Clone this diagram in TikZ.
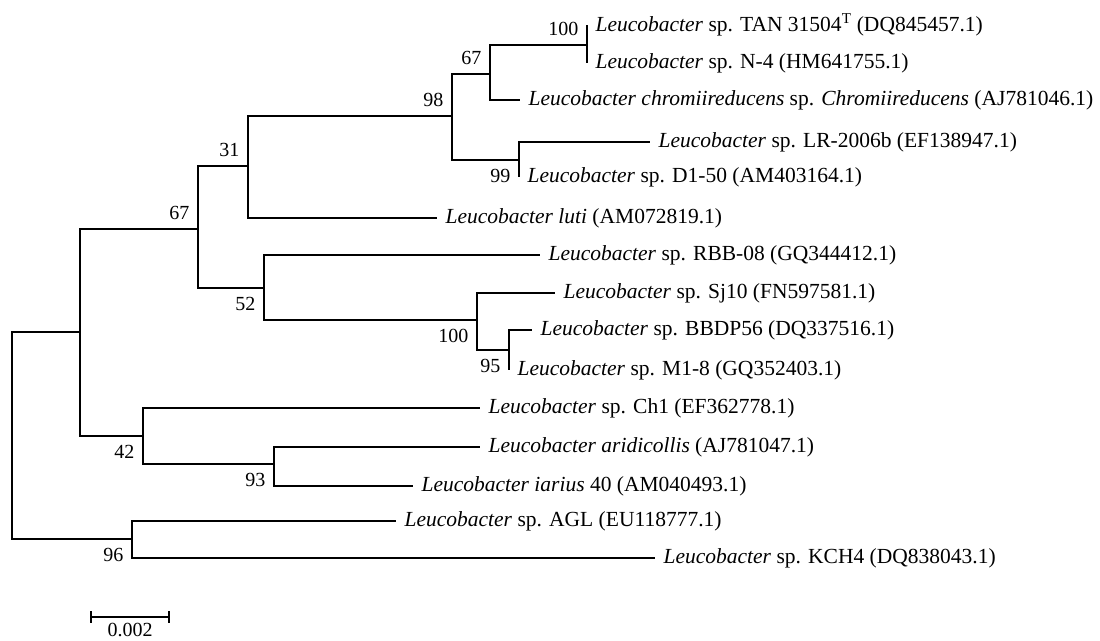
\documentclass[tikz,border=0pt]{standalone}
\usepackage{fontspec}
\setmainfont{Liberation Serif}
\begin{document}
\begin{tikzpicture}[x=1pt, y=-1pt, line width=1.2pt,
    taxon/.style={anchor=west, inner xsep=8pt, inner ysep=0pt, font=\fontsize{21.5}{25}\selectfont},
    boot/.style={font=\fontsize{20}{24}\selectfont, inner xsep=8pt, inner ysep=9pt}]
\useasboundingbox (0,0) rectangle (1100,640);

% internal nodes with bootstrap values
\coordinate (root) at (12,435);
\coordinate (ninner) at (80,332);
\coordinate[label={[boot]above left:67}] (n67b) at (198,229);
\coordinate[label={[boot]above left:31}] (n31) at (248,166);
\coordinate[label={[boot]above left:98}] (n98) at (452,116);
\coordinate[label={[boot]above left:67}] (n67a) at (490,74);
\coordinate[label={[boot]above left:100}] (n100a) at (587,45);
\coordinate[label={[boot]below left:99}] (n99) at (519,160);
\coordinate[label={[boot]below left:52}] (n52) at (264,288);
\coordinate[label={[boot]below left:100}] (n100b) at (477,320);
\coordinate[label={[boot]below left:95}] (n95) at (509,350);
\coordinate[label={[boot]below left:42}] (n42) at (143,436);
\coordinate[label={[boot]below left:93}] (n93) at (274,464);
\coordinate[label={[boot]below left:96}] (n96) at (132,539);

% branches between internal nodes
\foreach \a/\b in {root/ninner, root/n96, ninner/n67b, ninner/n42, n67b/n31, n67b/n52,
    n31/n98, n98/n67a, n98/n99, n67a/n100a, n52/n100b, n100b/n95, n42/n93}
    \draw (\a) |- (\b);

% leaves
\foreach \pa/\nm/\x/\y/\txt in {
    n100a/tan/587/25/{\textit{Leucobacter} sp. TAN 31504\textsuperscript{T} (DQ845457.1)},
    n100a/nfour/587/63/{\textit{Leucobacter} sp. N-4 (HM641755.1)},
    n67a/chromi/520/100/{\textit{Leucobacter chromiireducens} sp. \textit{Chromiireducens} (AJ781046.1)},
    n99/lrb/650/142/{\textit{Leucobacter} sp. LR-2006b (EF138947.1)},
    n99/dfifty/519/177/{\textit{Leucobacter} sp. D1-50 (AM403164.1)},
    n31/luti/437/218/{\textit{Leucobacter luti} (AM072819.1)},
    n52/rbb/540/255/{\textit{Leucobacter} sp. RBB-08 (GQ344412.1)},
    n100b/sjten/555/293/{\textit{Leucobacter} sp. Sj10 (FN597581.1)},
    n95/bbdp/532/330/{\textit{Leucobacter} sp. BBDP56 (DQ337516.1)},
    n95/mone/509/370/{\textit{Leucobacter} sp. M1-8 (GQ352403.1)},
    n42/chone/480/408/{\textit{Leucobacter} sp. Ch1 (EF362778.1)},
    n93/arid/480/447/{\textit{Leucobacter aridicollis} (AJ781047.1)},
    n93/iarius/413/486/{\textit{Leucobacter iarius} 40 (AM040493.1)},
    n96/agl/396/521/{\textit{Leucobacter} sp. AGL (EU118777.1)},
    n96/kch/655/558/{\textit{Leucobacter} sp. KCH4 (DQ838043.1)}} {
    \node[taxon] (\nm) at (\x,\y) {\txt};
    \draw (\pa) |- (\nm.west);
}

% scale bar
\coordinate (sbl) at (91,617);
\coordinate (sbr) at (169,617);
\draw (sbl) -- (sbr);
\draw ([yshift=6pt]sbl) -- ([yshift=-6pt]sbl);
\draw ([yshift=6pt]sbr) -- ([yshift=-6pt]sbr);
\path (sbl) -- (sbr) node[midway, below=6pt, inner sep=0pt, font=\fontsize{20}{24}\selectfont] (sbtxt) {0.002};
\end{tikzpicture}
\end{document}
